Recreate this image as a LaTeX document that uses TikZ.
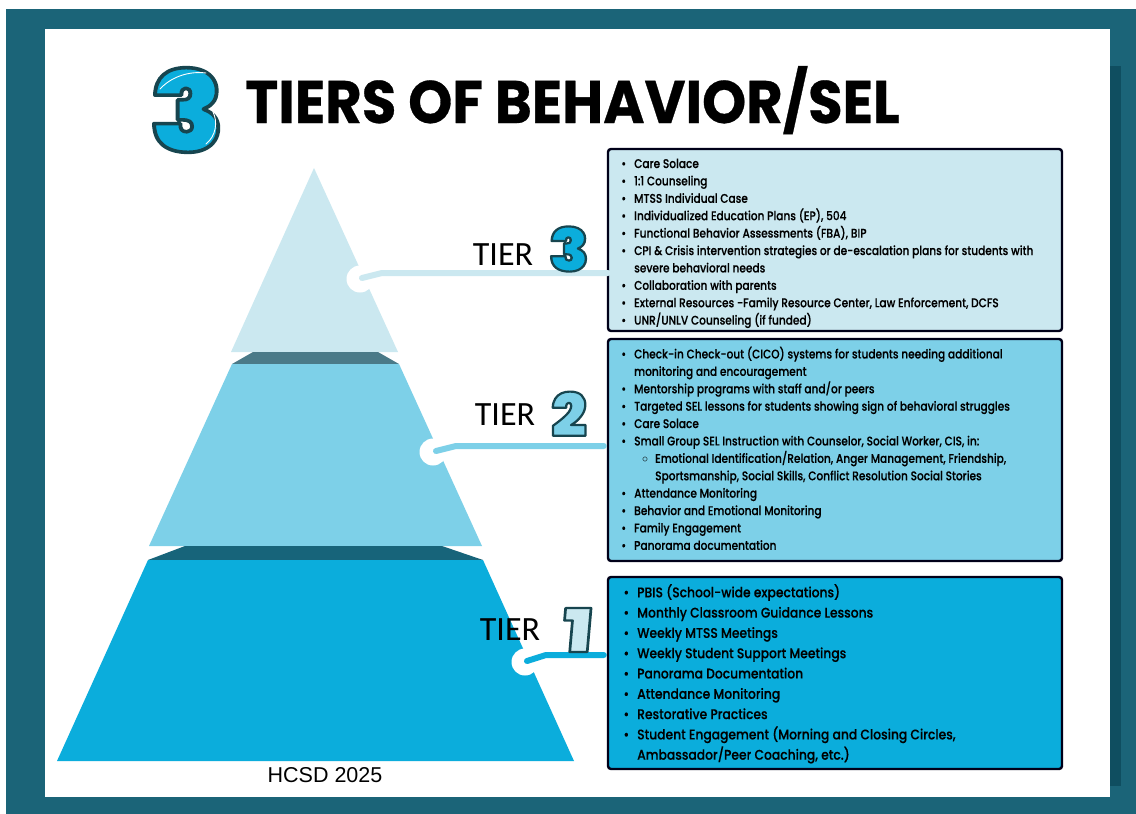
\documentclass[tikz,border=0pt]{standalone}
\usepackage{fontspec}
\setmainfont{Poppins}
\newfontfamily\titlefont[FakeStretch=0.935,FakeBold=0.5]{Poppins Bold}
\newfontfamily\bodyfont[FakeStretch=0.84,FakeBold=0.25]{Poppins Medium}
\newfontfamily\bodyfontlarge[FakeStretch=0.88,FakeBold=0.25]{Poppins Medium}
\newfontfamily\tierfont{Carlito}
\newfontfamily\footfont{Liberation Sans}
\newfontfamily\digitfont[FakeBold=3.2]{Poppins Black}
\newfontfamily\digitsmall[FakeBold=3.6]{Poppins Black}
\newfontfamily\digitslant[FakeBold=3.6,FakeSlant=0.07]{Poppins Black}
\definecolor{frameteal}{HTML}{1B6478}
\definecolor{shadowteal}{HTML}{0F4E60}
\definecolor{tierA}{HTML}{0BADDC}
\definecolor{tierB}{HTML}{7DD0E8}
\definecolor{tierC}{HTML}{CBE8F0}
\definecolor{shelfC}{HTML}{4A7A88}
\definecolor{shelfB}{HTML}{17647A}
\newcommand{\outl}{\special{pdf:code 0.09 0.27 0.31 RG 1 j}}
\newenvironment{boxlist}[1]{%
  \begin{minipage}[t]{#1}\hyphenpenalty=10000 \raggedright
  \begin{list}{\textbullet}{\setlength{\leftmargin}{26pt}\setlength{\labelsep}{8pt}\setlength{\labelwidth}{12pt}\setlength{\itemsep}{0pt}\setlength{\parsep}{0pt}\setlength{\topsep}{0pt}\setlength{\partopsep}{0pt}\setlength{\rightmargin}{0pt}}}
  {\end{list}\end{minipage}}
\newenvironment{subboxlist}{%
  \begin{list}{$\circ$}{\setlength{\leftmargin}{21pt}\setlength{\labelsep}{7pt}\setlength{\labelwidth}{10pt}\setlength{\itemsep}{0pt}\setlength{\parsep}{0pt}\setlength{\topsep}{0pt}\setlength{\partopsep}{0pt}}}{\end{list}}
\tikzset{
  tierbox/.style={draw=black!90!blue,line width=2.4pt,rounded corners=3pt,inner sep=0pt,outer sep=0pt,anchor=north west,minimum width=454pt,align=left},
  boxtext/.style={anchor=north west,inner sep=0pt},
  link/.style={line width=6pt,line cap=round,line join=round},
  notch/.style={circle,fill=white,minimum size=27pt,inner sep=0pt},
  tierlabel/.style={inner sep=0pt,font=\tierfont\fontsize{34}{34}\selectfont,text=black},
  digit/.style={inner sep=0pt},
  highlight/.style={white,line width=0.9pt,line cap=round}
}
\begin{document}
\begin{tikzpicture}[x=1pt,y=-1pt]
\useasboundingbox (0,0) rectangle (1136,814);
% frame
\fill[white] (0,0) rectangle (1136,814);
\fill[frameteal] (6,9) rectangle (1136,814);
\fill[shadowteal] (1108,66) rectangle (1121,786);
\fill[white] (45,29) rectangle (1110,797);
% pyramid
\fill[tierC] (314,168) -- (398,352) -- (231,352) -- cycle;
\fill[shelfC] (253,352) -- (378,352) -- (399,364) -- (232,364) -- cycle;
\fill[tierB] (232,364) -- (399,364) -- (482,546) -- (149,546) -- cycle;
\fill[shelfB] (185,546) -- (442,546) -- (483,560) -- (148,560) -- cycle;
\fill[tierA] (148,560) -- (483,560) -- (574,761) -- (57,761) -- cycle;
% notches
\node[notch] (notch3) at (360,279) {};
\node[notch] (notch2) at (433,452) {};
\node[notch] (notch1) at (525,662) {};
\coordinate (s3) at (362,278); \coordinate (b3) at (382,273);
\coordinate (s2) at (436,451); \coordinate (b2) at (456,446);
\coordinate (s1) at (527,661); \coordinate (b1) at (546,655);
% boxes
\node[tierbox,fill=tierC,minimum height=182pt] (box3) at (608,149) {};
\node[tierbox,fill=tierB,minimum height=222pt] (box2) at (608,339) {};
\node[tierbox,fill=tierA,minimum height=192pt] (box1) at (608,577) {};
% connectors
\draw[link,tierC] (s3) -- (b3) -- (box3.west |- b3);
\draw[link,tierB,shorten >=4.2pt] (s2) -- (b2) -- (box2.west |- b2);
\draw[link,tierA,shorten >=4.2pt] (s1) -- (b1) -- (box1.west |- b1);
% box text
\node[boxtext] (text3) at (608,158.5) {\bodyfont\fontsize{12.6}{17.4}\selectfont\begin{boxlist}{444pt}
\item Care Solace
\item 1:1 Counseling
\item MTSS Individual Case
\item Individualized Education Plans (EP), 504
\item Functional Behavior Assessments (FBA), BIP
\item CPI \& Crisis intervention strategies or de-escalation plans for students with\newline severe behavioral needs
\item Collaboration with parents
\item External Resources -Family Resource Center, Law Enforcement, DCFS
\item UNR/UNLV Counseling (if funded)
\end{boxlist}};
\node[boxtext] (text2) at (608,346.5) {\bodyfont\fontsize{12.6}{17.4}\selectfont\begin{boxlist}{440pt}
\item Check-in Check-out (CICO) systems for students needing additional\newline monitoring and encouragement
\item Mentorship programs with staff and/or peers
\item Targeted SEL lessons for students showing sign of behavioral struggles
\item Care Solace
\item Small Group SEL Instruction with Counselor, Social Worker, CIS, in:
\begin{subboxlist}
\item Emotional Identification/Relation, Anger Management, Friendship,\newline Sportsmanship, Social Skills, Conflict Resolution Social Stories
\end{subboxlist}
\item Attendance Monitoring
\item Behavior and Emotional Monitoring
\item Family Engagement
\item Panorama documentation
\end{boxlist}};
\node[boxtext] (text1) at (611,584) {\bodyfontlarge\fontsize{14}{20.3}\selectfont\begin{boxlist}{440pt}
\item PBIS (School-wide expectations)
\item Monthly Classroom Guidance Lessons
\item Weekly MTSS Meetings
\item Weekly Student Support Meetings
\item Panorama Documentation
\item Attendance Monitoring
\item Restorative Practices
\item Student Engagement (Morning and Closing Circles,\newline Ambassador/Peer Coaching, etc.)
\end{boxlist}};
% title
\node[anchor=base west,inner sep=0pt] (title) at (245,123) {\titlefont\fontsize{60}{60}\selectfont TIERS OF BEHAVIOR/SEL};
\node[digit] (big3) at (187,110) {\scalebox{1.27}[1.17]{\digitfont\fontsize{96}{96}\selectfont\color{tierA}\outl 3}};
\draw[highlight] (160,89) .. controls (172,76) and (190,71) .. (206,73);
\draw[highlight] (213,112) .. controls (218,122) and (216,136) .. (206,144);
% tier labels
\node[tierlabel] (t3) at (503,255) {TIER};
\node[tierlabel] (t2) at (505,415) {TIER};
\node[tierlabel] (t1) at (510,630) {TIER};
\node[digit] (d3) at (569,249) {\scalebox{1.1}[1]{\digitsmall\fontsize{60}{60}\selectfont\color{tierA}\outl 3}};
\node[digit] (d2) at (569,414) {\scalebox{1.05}[1]{\digitsmall\fontsize{60}{60}\selectfont\color{tierB}\outl 2}};
\node[digit] (d1) at (576,630) {\scalebox{1.25}[1]{\digitslant\fontsize{60}{60}\selectfont\color{tierC}\outl 1}};
% footer
\node[inner sep=0pt] (foot) at (325,775) {\footfont\fontsize{21.5}{21.5}\selectfont HCSD 2025};
\end{tikzpicture}
\end{document}
